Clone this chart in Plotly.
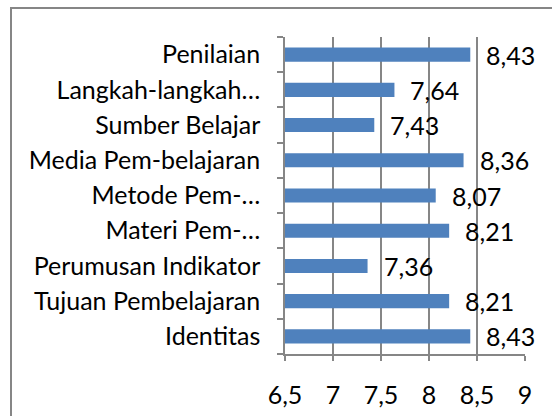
import plotly.graph_objects as go

categories = ["Identitas", "Tujuan Pembelajaran", "Perumusan Indikator", "Materi Pem-…",
              "Metode Pem-…", "Media Pem-belajaran", "Sumber Belajar", "Langkah-langkah…", "Penilaian"]
values = [8.43, 8.21, 7.36, 8.21, 8.07, 8.36, 7.43, 7.64, 8.43]
value_labels = [f"{v:.2f}".replace(".", ",") for v in values]
tick_vals = [6.5, 7, 7.5, 8, 8.5, 9]
tick_text = ["6,5", "7", "7,5", "8", "8,5", "9"]

FONT = "Lato"
FS = 25
GRID = "#868686"
BLUE = "#4F81BD"

W, H = 552, 416
L, R, T, B = 285, 27, 37, 62
pw, ph = W - L - R, H - T - B

def px_to_paper_x(px):
    return (px - L) / pw

def px_to_paper_y(py):
    return (H - B - py) / ph

fig = go.Figure()
fig.add_trace(go.Bar(
    y=categories, x=values, orientation="h",
    marker=dict(color=BLUE, line=dict(width=0)),
    width=0.4, hoverinfo="skip",
))

for c, v, t in zip(categories, values, value_labels):
    fig.add_annotation(x=v, y=c, text=t, showarrow=False, xanchor="left",
                       xshift=14, font=dict(family=FONT, size=FS, color="#000000"))

fig.add_shape(type="rect", xref="paper", yref="paper",
              x0=px_to_paper_x(11), x1=px_to_paper_x(W + 20),
              y0=px_to_paper_y(H + 20), y1=px_to_paper_y(8),
              line=dict(color=GRID, width=2), fillcolor="rgba(0,0,0,0)", layer="below")

fig.update_layout(
    width=W, height=H,
    margin=dict(l=L, r=R, t=T, b=B, pad=0, autoexpand=False),
    paper_bgcolor="white", plot_bgcolor="white",
    separators=",.",
    showlegend=False,
    font=dict(family=FONT, size=FS, color="#000000"),
    xaxis=dict(range=[6.5, 9], tickvals=tick_vals, ticktext=tick_text,
               showgrid=True, gridcolor=GRID, gridwidth=1.5,
               showline=True, linecolor=GRID, linewidth=1.5,
               ticks="outside", ticklen=5, tickcolor=GRID, tickwidth=1.5,
               ticklabelstandoff=13, zeroline=False, automargin=False,
               tickfont=dict(family=FONT, size=FS, color="#000000")),
    yaxis=dict(type="category", categoryorder="array", categoryarray=categories,
               range=[-0.5, len(categories) - 0.5],
               showgrid=False, showline=True, linecolor=GRID, linewidth=1.5,
               ticks="outside", ticklen=6, tickcolor=GRID, tickwidth=1.5,
               tickson="boundaries", ticklabelstandoff=18, automargin=False,
               tickfont=dict(family=FONT, size=FS, color="#000000")),
)

fig.write_html("out.html", config={"displayModeBar": False},
               post_script="document.body.style.margin='0';")
